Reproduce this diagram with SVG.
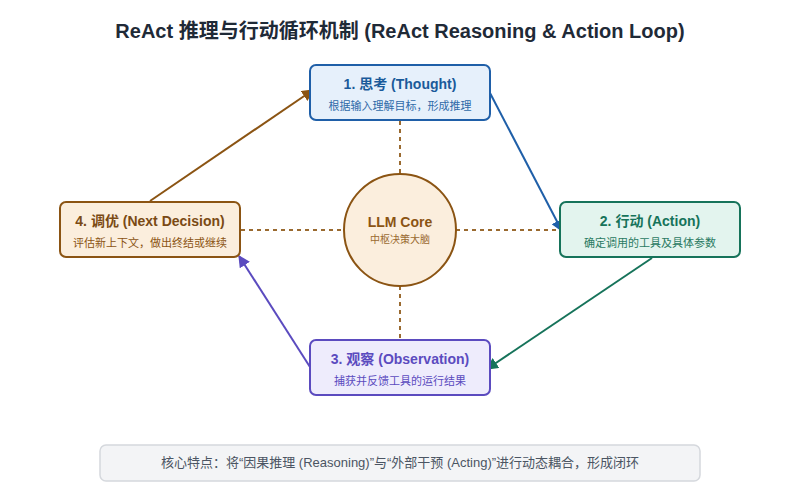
<svg xmlns="http://www.w3.org/2000/svg" width="800" height="500" viewBox="0 0 800 500">
<defs>
<style>
text{font-family:"Liberation Sans","Noto Sans CJK SC",sans-serif;text-anchor:middle}
.title{font-size:20px;font-weight:bold;fill:#1f2a37}
.h{font-size:14px;font-weight:bold}
.s{font-size:11px}
.box{stroke-width:2}
.dash{stroke:#9a6a30;stroke-width:2;stroke-dasharray:4 4;fill:none}
.arr{stroke-width:2;fill:none}
</style>
<marker id="mBrown" viewBox="0 0 10 10" refX="9" refY="5" markerWidth="6" markerHeight="6" orient="auto"><path d="M0,0L10,5L0,10z" fill="#8b5413"/></marker>
<marker id="mBlue" viewBox="0 0 10 10" refX="9" refY="5" markerWidth="6" markerHeight="6" orient="auto"><path d="M0,0L10,5L0,10z" fill="#1f5fa8"/></marker>
<marker id="mGreen" viewBox="0 0 10 10" refX="9" refY="5" markerWidth="6" markerHeight="6" orient="auto"><path d="M0,0L10,5L0,10z" fill="#16735a"/></marker>
<marker id="mPurple" viewBox="0 0 10 10" refX="9" refY="5" markerWidth="6" markerHeight="6" orient="auto"><path d="M0,0L10,5L0,10z" fill="#5b4bbf"/></marker>
</defs>
<rect width="800" height="500" fill="#ffffff"/>
<text class="title" x="400" y="38">ReAct 推理与行动循环机制 (ReAct Reasoning &amp; Action Loop)</text>

<g id="connectors">
<line class="dash" x1="400" y1="121" x2="400" y2="174"/>
<line class="dash" x1="400" y1="286" x2="400" y2="339"/>
<line class="dash" x1="241" y1="230" x2="344" y2="230"/>
<line class="dash" x1="456" y1="230" x2="559" y2="230"/>
<line class="arr" stroke="#8b5413" x1="150" y1="201" x2="313" y2="90" marker-end="url(#mBrown)"/>
<line class="arr" stroke="#1f5fa8" x1="490" y1="93" x2="562" y2="231" marker-end="url(#mBlue)"/>
<line class="arr" stroke="#16735a" x1="652" y1="258" x2="487" y2="369" marker-end="url(#mGreen)"/>
<line class="arr" stroke="#5b4bbf" x1="310" y1="367" x2="239" y2="256" marker-end="url(#mPurple)"/>
</g>

<g id="core">
<circle cx="400" cy="230" r="56" fill="#fbeedd" stroke="#8b5413" stroke-width="2"/>
<text class="h" x="400" y="227" fill="#8b5413">LLM Core</text>
<text x="400" y="243" font-size="10" fill="#9a6a30">中枢决策大脑</text>
</g>

<g id="thought">
<rect class="box" x="310" y="65" width="180" height="55" rx="6" fill="#e6f0fb" stroke="#1f5fa8"/>
<text class="h" x="400" y="89" fill="#1a5a9a">1. 思考 (Thought)</text>
<text class="s" x="400" y="110" fill="#2f6aa8">根据输入理解目标，形成推理</text>
</g>

<g id="action">
<rect class="box" x="560" y="202" width="180" height="55" rx="6" fill="#e3f4ee" stroke="#16735a"/>
<text class="h" x="650" y="226" fill="#16735a">2. 行动 (Action)</text>
<text class="s" x="650" y="247" fill="#2a7a62">确定调用的工具及具体参数</text>
</g>

<g id="observation">
<rect class="box" x="310" y="340" width="180" height="55" rx="6" fill="#eeecfc" stroke="#5b4bbf"/>
<text class="h" x="400" y="364" fill="#5b4bbf">3. 观察 (Observation)</text>
<text class="s" x="400" y="385" fill="#5b4bbf">捕获并反馈工具的运行结果</text>
</g>

<g id="decision">
<rect class="box" x="60" y="202" width="180" height="55" rx="6" fill="#fbeedd" stroke="#8b5413"/>
<text class="h" x="150" y="226" fill="#7a4a14">4. 调优 (Next Decision)</text>
<text class="s" x="150" y="247" fill="#8b5413">评估新上下文，做出终结或继续</text>
</g>

<g id="note">
<rect x="100" y="445" width="600" height="36" rx="6" fill="#f3f4f6" stroke="#d5d8dd" stroke-width="1.5"/>
<text x="400" y="467" font-size="13" fill="#4b5563">核心特点：将“因果推理 (Reasoning)”与“外部干预 (Acting)”进行动态耦合，形成闭环</text>
</g>
</svg>
